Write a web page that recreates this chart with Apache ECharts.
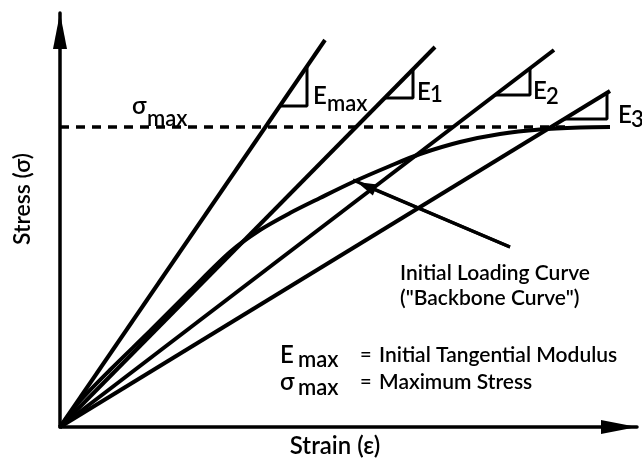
<!DOCTYPE html>
<html>
<head>
<meta charset="utf-8">
<script src="https://cdn.jsdelivr.net/npm/echarts@6/dist/echarts.min.js"></script>
<style>
html, body { margin: 0; padding: 0; background: #fff; }
#chart { width: 642px; height: 464px; }
</style>
</head>
<body>
<div id="chart"></div>
<script>
// values (arbitrary strain / stress units)
const secantNames = ['Emax', 'E1', 'E2', 'E3'];
const secantEndStrain = [265, 375, 494, 550];
const secantEndStress = [387, 380, 377, 336];
// slope triangles: left / right strain, base stress, top stress
const triLeft = [220, 325, 435, 504];
const triRight = [247, 353, 470, 547];
const triBase = [321, 329, 332, 308];
const triTop = [361, 358, 359, 334];
// backbone curve
const curveStrain = [0, 20, 50, 90, 130, 170, 200, 230, 260, 293, 330, 360, 400, 440, 480, 520, 550];
const curveStress = [0, 26, 57, 96, 136, 175, 197, 214, 229, 245, 261, 273, 285, 293, 297.5, 299.5, 300];
const sigmaMax = 300;
const dashEnd = 505;
const arrowFrom = [450, 180];
const arrowHead = [306, 241];
const arrowTo = [293, 247];

const FONT = 'Lato, "Open Sans", sans-serif';
const black = '#000';

let chart = echarts.init(document.getElementById('chart'));

let series = [];
series.push({
  name: 'Backbone',
  type: 'line',
  data: curveStrain.map((x, i) => [x, curveStress[i]]),
  smooth: 0.3,
  showSymbol: false,
  lineStyle: { color: black, width: 4 }
});
secantNames.forEach((n, i) => {
  series.push({
    name: n,
    type: 'line',
    data: [[0, 0], [secantEndStrain[i], secantEndStress[i]]],
    showSymbol: false,
    lineStyle: { color: black, width: 4 }
  });
  series.push({
    name: n + ' triangle',
    type: 'line',
    data: [[triLeft[i], triBase[i]], [triRight[i], triBase[i]], [triRight[i], triTop[i]]],
    showSymbol: false,
    lineStyle: { color: black, width: 3 }
  });
});
series.push({
  name: 'sigma max',
  type: 'line',
  data: [[0, sigmaMax], [dashEnd, sigmaMax]],
  showSymbol: false,
  lineStyle: { color: black, width: 3.5, type: [9, 7] }
});
series.push({
  name: 'pointer',
  type: 'line',
  data: [arrowFrom, arrowTo],
  showSymbol: false,
  lineStyle: { color: black, width: 3 },
  markLine: {
    silent: true,
    symbol: ['none', 'triangle'],
    symbolSize: [12, 20],
    label: { show: false },
    lineStyle: { color: black, width: 3, type: 'solid' },
    data: [[{ coord: arrowFrom }, { coord: arrowHead }]]
  }
});

function txt(x, y, text, size, align) {
  return {
    type: 'text', x: x, y: y,
    style: { text: text, fill: black, font: '600 ' + size + 'px ' + FONT, align: align || 'left', verticalAlign: 'middle' }
  };
}

const axisArrow = {
  show: true,
  symbol: ['none', 'triangle'],
  symbolSize: [14, 36],
  symbolOffset: [0, -18],
  lineStyle: { color: black, width: 3.5 }
};

chart.setOption({
  animation: false,
  grid: { left: 60, right: 5, top: 13, bottom: 37 },
  xAxis: {
    type: 'value', min: 0, max: 577,
    axisLine: axisArrow,
    axisTick: { show: false }, axisLabel: { show: false }, splitLine: { show: false },
    name: 'Strain (ε)', nameLocation: 'middle', nameGap: 7,
    nameTextStyle: { fontFamily: FONT, fontWeight: 600, fontSize: 24, color: black, verticalAlign: 'top', padding: [0, 27, 0, 0] }
  },
  yAxis: {
    type: 'value', min: 0, max: 414,
    axisLine: axisArrow,
    axisTick: { show: false }, axisLabel: { show: false }, splitLine: { show: false },
    name: 'Stress (σ)', nameLocation: 'middle', nameGap: 26,
    nameTextStyle: { fontFamily: FONT, fontWeight: 600, fontSize: 23, color: black, padding: [0, 0, 0, 42] }
  },
  series: series,
  graphic: [
    txt(132, 106, 'σ', 24), txt(147, 119, 'max', 22),
    txt(313, 96, 'E', 24), txt(327, 104, 'max', 22),
    txt(417, 92, 'E', 24), txt(430, 95, '1', 22),
    txt(533, 91, 'E', 24), txt(546, 97, '2', 22),
    txt(618, 115, 'E', 24), txt(631, 120, '3', 22),
    txt(400, 273, 'Initial Loading Curve', 21),
    txt(400, 298, '("Backbone Curve")', 21),
    txt(280, 355, 'E', 24), txt(298, 360, 'max', 22),
    txt(360, 355, '=', 20), txt(379, 355, 'Initial Tangential Modulus', 21),
    txt(280, 382, 'σ', 24), txt(298, 388, 'max', 22),
    txt(360, 382, '=', 20), txt(379, 382, 'Maximum Stress', 21)
  ]
});
</script>
</body>
</html>
